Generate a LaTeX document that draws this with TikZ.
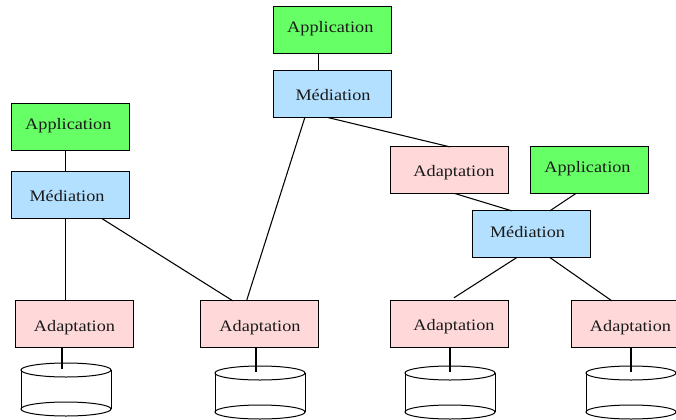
\documentclass[tikz,border=0pt]{standalone}
\usepackage{fontspec}
\setmainfont{Liberation Serif}
\usetikzlibrary{calc}
\definecolor{appgreen}{HTML}{66FF66}
\definecolor{medblue}{HTML}{B3E0FF}
\definecolor{adapink}{HTML}{FFD9D9}
\definecolor{inkc}{HTML}{1A1A1A}
\tikzset{
  x=0.75pt,y=-0.75pt,
  boxbase/.style={draw=black,line width=0.8pt,anchor=north west,minimum width=88pt,minimum height=35pt,inner sep=0pt,outer sep=0pt,xshift=-0.12pt,yshift=0.12pt},
  appbox/.style={boxbase,fill=appgreen},
  medbox/.style={boxbase,fill=medblue},
  adabox/.style={boxbase,fill=adapink},
  boxtext/.style={anchor=base,inner sep=0pt,text=inkc,font=\fontsize{12}{14}\selectfont},
  wire/.style={draw=black,line width=0.8pt},
  cylline/.style={draw=black,line width=0.75pt}
}
% name, centre x, centre y of the top ellipse, x of the entering connector
\newcommand{\cylinder}[4]{%
  \draw[cylline] (#2,#3) ellipse [x radius=45,y radius=7];
  \draw[cylline] (#2,#3+39) ellipse [x radius=45,y radius=7];
  \draw[cylline] (#2-45,#3) -- (#2-45,#3+39);
  \draw[cylline] (#2+45,#3) -- (#2+45,#3+39);
  \coordinate (#1) at (#4,#3-1);
}
\newcommand{\boxlabel}[4]{\node[boxtext] (#1) at (#2,#3) {\scalebox{1.14}[1]{#4}};}
\begin{document}
\begin{tikzpicture}
\useasboundingbox (0,0) rectangle (676,419);
\clip (0,0) rectangle (676,419);
% boxes
\node[appbox] (apptop) at (274,7) {};
\node[medbox] (medtop) at (274,71) {};
\node[appbox] (appleft) at (12,104) {};
\node[medbox] (medleft) at (12,172) {};
\node[adabox] (adaa) at (16,301) {};
\node[adabox] (adab) at (201,301) {};
\node[adabox] (adac) at (391,147) {};
\node[appbox] (appright) at (531,147) {};
\node[medbox] (medright) at (473,211) {};
\node[adabox] (adad) at (391,301) {};
\node[adabox] (adae) at (572,301) {};
% labels
\boxlabel{tapptop}{330.3}{32}{Application}
\boxlabel{tmedtop}{333}{100}{Médiation}
\boxlabel{tappleft}{68.3}{129}{Application}
\boxlabel{tmedleft}{67}{201}{Médiation}
\boxlabel{tadaa}{74.5}{331}{Adaptation}
\boxlabel{tadab}{260}{331}{Adaptation}
\boxlabel{tadac}{454}{176}{Adaptation}
\boxlabel{tappright}{587.5}{172}{Application}
\boxlabel{tmedright}{527.5}{237}{Médiation}
\boxlabel{tadad}{454}{330}{Adaptation}
\boxlabel{tadae}{630.5}{331}{Adaptation}
% cylinders
\cylinder{cyla}{66}{370}{62}
\cylinder{cylb}{260}{373}{256}
\cylinder{cylc}{450}{373}{450}
\cylinder{cyld}{631}{373}{631}
% connectors
\draw[wire] ($(apptop.south west)+(45,0)$) -- ($(medtop.north west)+(45,0)$);
\draw[wire] ($(appleft.south west)+(54,0)$) -- ($(medleft.north west)+(54,0)$);
\draw[wire] ($(medleft.south west)+(54,0)$) -- ($(adaa.north west)+(50,0)$);
\draw[wire] ($(medleft.south west)+(90,0)$) -- ($(adab.north west)+(32,0)$);
\draw[wire] ($(medtop.south west)+(31,0)$) -- ($(adab.north west)+(46,-1)$);
\draw[wire] ($(medtop.south west)+(54,0)$) -- ($(adac.north west)+(59,0)$);
\draw[wire] ($(adac.south west)+(64,0)$) -- ($(medright.north west)+(39,0)$);
\draw[wire] ($(appright.south west)+(45,0)$) -- ($(medright.north west)+(77,0)$);
\draw[wire] ($(medright.south west)+(44,0)$) -- ($(adad.north west)+(63,-3)$);
\draw[wire] ($(medright.south west)+(77,0)$) -- ($(adae.north west)+(40,0)$);
\draw[wire] (cyla |- adaa.south) -- (cyla);
\draw[wire] (cylb |- adab.south) -- (cylb);
\draw[wire] (cylc |- adad.south) -- (cylc);
\draw[wire] (cyld |- adae.south) -- (cyld);
\end{tikzpicture}
\end{document}
